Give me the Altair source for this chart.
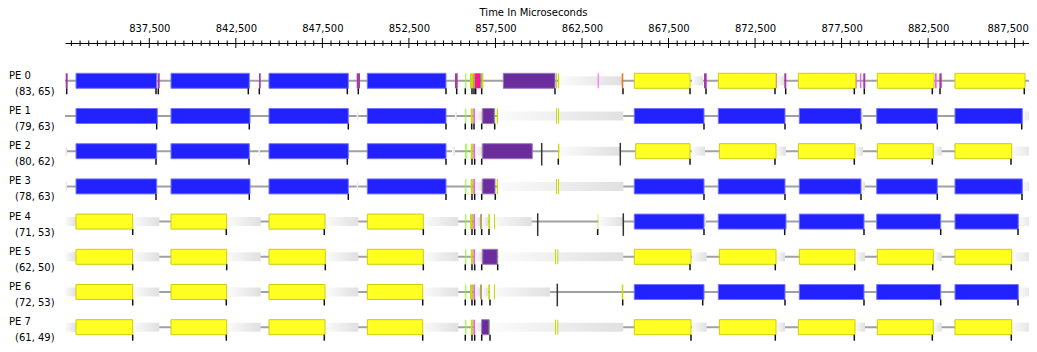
import altair as alt
import pandas as pd

# ---------------- data (times in microseconds) ----------------
PE_NAMES = ["PE 0", "PE 1", "PE 2", "PE 3", "PE 4", "PE 5", "PE 6", "PE 7"]
PE_COUNTS = ["(83, 65)", "(79, 63)", "(80, 62)", "(78, 63)",
             "(71, 53)", "(62, 50)", "(72, 53)", "(61, 49)"]

MAJOR_TICKS = [837500, 842500, 847500, 852500, 857500, 862500,
               867500, 872500, 877500, 882500, 887500]
MINOR_STEP = 500

PE0 = [
    (832669, 832785, "plum"), (833265, 837927, "blue"), (837985, 838101, "plum"),
    (838754, 843278, "blue"), (843838, 843937, "plum"), (844416, 848998, "blue"),
    (849484, 849674, "plum"), (850096, 854643, "blue"), (855163, 855319, "plum"),
    (855758, 855816, "green"), (856030, 856203, "yg"), (856203, 856319, "olive"),
    (856319, 856648, "pink"), (856648, 856706, "teal"), (856706, 856799, "yg"),
    (857954, 860941, "purple"), (860999, 861057, "yg"), (861115, 861173, "yg"),
    (861173, 864795, "idle"), (863408, 863466, "lmag"), (864795, 864888, "orange"),
    (865523, 868742, "yellow"), (868857, 869493, "idle"), (869550, 869706, "plum"),
    (870377, 873711, "yellow"), (873711, 873768, "lmag"), (873768, 874190, "idle"),
    (874190, 874306, "plum"), (875000, 878316, "yellow"), (878316, 878374, "lmag"),
    (878564, 878639, "lmag"), (878755, 878870, "plum"), (879564, 882840, "yellow"),
    (882898, 882996, "lmag"), (883149, 883285, "plum"), (884053, 888098, "yellow"),
]
PE1 = [
    (833265, 837962, "blue"), (838754, 843318, "blue"), (844416, 848998, "blue"),
    (849484, 849576, "idle"), (850096, 854643, "blue"), (855163, 855261, "idle"),
    (855758, 855816, "green"), (856070, 856186, "yg"), (856186, 856244, "olive"),
    (856244, 856319, "lmag"), (856319, 856764, "idle"), (856706, 856764, "olive"),
    (856764, 857434, "purple"), (857434, 857492, "green"), (857573, 857648, "yg"),
    (857648, 864888, "idle"), (860999, 861057, "yg"), (861115, 861173, "yg"),
    (865523, 869550, "blue"), (870377, 874231, "blue"), (875057, 878622, "blue"),
    (878622, 878738, "idle"), (879529, 883030, "blue"), (884053, 887942, "blue"),
    (887942, 888560, "idle"),
]
PE2 = [
    (832629, 832745, "idle"), (833265, 837927, "blue"), (838754, 843278, "blue"),
    (843809, 843895, "idle"), (844416, 848998, "blue"), (850096, 854643, "blue"),
    (854990, 855163, "idle"), (855758, 855839, "green"), (856070, 856186, "yg"),
    (856186, 856244, "olive"), (856244, 856319, "lmag"), (856319, 856764, "idle"),
    (856706, 856764, "olive"), (856764, 859630, "purple"), (861115, 861190, "yg"),
    (861190, 864697, "idle"), (865604, 868742, "yellow"), (868840, 869608, "idle"),
    (870435, 873711, "yellow"), (873711, 874288, "idle"), (875000, 878275, "yellow"),
    (878275, 878738, "idle"), (879564, 882800, "yellow"), (882800, 883285, "idle"),
    (884053, 887329, "yellow"), (887329, 888774, "idle"),
]
PE3 = [
    (832629, 832745, "idle"), (833265, 837927, "blue"), (838754, 843318, "blue"),
    (844416, 848998, "blue"), (849484, 849576, "idle"), (850096, 854643, "blue"),
    (855758, 855816, "green"), (856070, 856186, "yg"), (856186, 856244, "olive"),
    (856244, 856319, "lmag"), (856319, 856764, "idle"), (856706, 856764, "olive"),
    (856764, 857474, "purple"), (857573, 857648, "yg"), (857648, 864888, "idle"),
    (860999, 861057, "yg"), (861115, 861173, "yg"), (865523, 869550, "blue"),
    (870377, 874231, "blue"), (875057, 878622, "blue"), (878622, 878853, "idle"),
    (879529, 883030, "blue"), (884053, 887942, "blue"), (887942, 888560, "idle"),
]
PE4 = [
    (832629, 833265, "idle"), (833265, 836541, "yellow"), (836541, 838078, "idle"),
    (838754, 841972, "yellow"), (841972, 843937, "idle"), (844416, 847652, "yellow"),
    (847652, 849576, "idle"), (850096, 853332, "yellow"), (853332, 855354, "idle"),
    (855758, 855816, "green"), (856030, 856163, "yg"), (856163, 856244, "olive"),
    (856244, 856319, "lmag"), (856319, 856608, "idle"), (856608, 856724, "olive"),
    (856724, 857088, "idle"), (857088, 857186, "yg"), (857186, 859595, "idle"),
    (857416, 857474, "yg"), (863408, 863443, "yg"), (863443, 864888, "idle"),
    (865523, 869550, "blue"), (869550, 869666, "idle"), (870377, 874288, "blue"),
    (875057, 878795, "blue"), (879529, 883227, "blue"), (884053, 887711, "blue"),
    (887711, 888676, "idle"),
]
PE5 = [
    (832629, 833265, "idle"), (833265, 836541, "yellow"), (836541, 838078, "idle"),
    (838754, 841972, "yellow"), (841972, 843937, "idle"), (844416, 847669, "yellow"),
    (847669, 849576, "idle"), (850096, 853332, "yellow"), (853332, 855354, "idle"),
    (855758, 855816, "green"), (856070, 856186, "yg"), (856186, 856244, "olive"),
    (856244, 856319, "lmag"), (856319, 856764, "idle"), (856706, 856764, "olive"),
    (856764, 857607, "purple"), (857607, 857665, "green"), (857665, 864888, "idle"),
    (860941, 860999, "yg"), (861074, 861132, "yg"), (865523, 868799, "yellow"),
    (868840, 869706, "idle"), (870435, 873711, "yellow"), (873711, 874231, "idle"),
    (875057, 878275, "yellow"), (878275, 878853, "idle"), (879564, 882800, "yellow"),
    (882800, 883285, "idle"), (884053, 887329, "yellow"), (887329, 888676, "idle"),
]
PE6 = [
    (832629, 833265, "idle"), (833265, 836541, "yellow"), (836541, 838078, "idle"),
    (838754, 841972, "yellow"), (841972, 843937, "idle"), (844416, 847652, "yellow"),
    (847652, 849576, "idle"), (850096, 853297, "yellow"), (853297, 855354, "idle"),
    (855758, 855816, "green"), (856030, 856163, "yg"), (856163, 856244, "olive"),
    (856244, 856319, "lmag"), (856319, 856608, "idle"), (856608, 856724, "olive"),
    (856724, 857088, "idle"), (857088, 857186, "yg"), (857186, 860652, "idle"),
    (857416, 857474, "yg"), (864795, 864888, "yg"), (865523, 869550, "blue"),
    (870377, 874231, "blue"), (875057, 878795, "blue"), (879529, 883227, "blue"),
    (884053, 887711, "blue"), (887711, 888676, "idle"),
]
PE7 = [
    (832629, 833265, "idle"), (833265, 836541, "yellow"), (836541, 838078, "idle"),
    (838754, 841972, "yellow"), (841972, 843937, "idle"), (844416, 847652, "yellow"),
    (847652, 849576, "idle"), (850096, 853297, "yellow"), (853297, 855354, "idle"),
    (855758, 855816, "green"), (856070, 856186, "yg"), (856186, 856244, "olive"),
    (856244, 856319, "lmag"), (856319, 856706, "idle"), (856706, 857128, "purple"),
    (857128, 857186, "green"), (857186, 864888, "idle"), (860941, 860999, "yg"),
    (861074, 861132, "yg"), (865523, 868799, "yellow"), (868840, 869706, "idle"),
    (870435, 873711, "yellow"), (873711, 874231, "idle"), (875000, 878275, "yellow"),
    (878275, 878853, "idle"), (879564, 882800, "yellow"), (882800, 883285, "idle"),
    (884053, 887329, "yellow"), (887329, 888676, "idle"),
]

TICKS_PE0 = [832727, 837887, 838020, 843220, 843856, 848940, 849576, 854643, 855261,
             855758, 856145, 856261, 856359, 856706, 860941, 864870, 868742, 869666,
             873653, 874271, 878235, 878813, 882742, 883187, 888057]
TICKS_PE1 = [837927, 843278, 848998, 854643, 855758, 856128, 856261, 856706, 857457,
             869550, 874231, 878622, 883030, 887907]
TICKS_PE2 = [837887, 843261, 848940, 854643, 855758, 856145, 856301, 856706, 861132,
             868742, 873653, 878235, 882742, 887289]
TICKS_PE3 = [837887, 843278, 848998, 854643, 855758, 856145, 856301, 856706, 857492,
             869550, 874231, 878622, 883030, 887924]
TICKS_PE4 = [836541, 841949, 847611, 853332, 855758, 856145, 856301, 856706, 857128,
             863408, 869550, 874213, 878795, 883227, 887694]
TICKS_PE5 = [836541, 841972, 847669, 853332, 855758, 856145, 856301, 856706, 857630,
             868742, 873670, 878258, 882765, 887306]
TICKS_PE6 = [836541, 841949, 847611, 853297, 855758, 856145, 856301, 856706, 857186,
             864853, 869475, 874231, 878795, 883227, 887694]
TICKS_PE7 = [836541, 841949, 847611, 853297, 855758, 856145, 856301, 856706, 857186,
             868799, 873670, 878235, 882742, 887306]

# tall black markers (pe, time)
MARKER_PE = [2, 2, 4, 4, 6]
MARKER_T = [860173, 864714, 859942, 864888, 861074]

KIND_COLORS = {
    "blue": "#2222ff", "yellow": "#ffff22", "purple": "#6b2c9c",
    "plum": "#a83aa8", "green": "#7cff1c", "yg": "#c8dc00", "olive": "#b4a46c",
    "pink": "#ff1493", "lmag": "#ff55ff", "teal": "#2e9a5c", "orange": "#e07b20",
}
KIND_STROKES = {"blue": "#7474ff", "yellow": "#cccc10", "purple": "#9a78c0"}

# ---------------- geometry ----------------
T0 = 832629
US_PER_PX = 57.78
ROW_PX = 35.2
PLOT_W, PLOT_H = 964, 301
T1 = T0 + PLOT_W * US_PER_PX
Y0 = -37.8 / ROW_PX
Y1 = Y0 + PLOT_H / ROW_PX
BAR_HALF = 7.5 / ROW_PX
GRAD_HALF = 4.5 / ROW_PX

ALL = [PE0, PE1, PE2, PE3, PE4, PE5, PE6, PE7]
ALL_TICKS = [TICKS_PE0, TICKS_PE1, TICKS_PE2, TICKS_PE3,
             TICKS_PE4, TICKS_PE5, TICKS_PE6, TICKS_PE7]

rows = []
for pe, entries in enumerate(ALL):
    for s, e, k in entries:
        rows.append({"pe": pe, "start": s, "end": e, "kind": k})
df = pd.DataFrame(rows)
df["y_top"] = df["pe"] - BAR_HALF
df["y_bot"] = df["pe"] + BAR_HALF
df["g_top"] = df["pe"] - GRAD_HALF
df["g_bot"] = df["pe"] + GRAD_HALF

trows = []
for pe, ts in enumerate(ALL_TICKS):
    for t in ts:
        trows.append({"pe": pe, "t": t})
tdf = pd.DataFrame(trows)
tdf["y_top"] = tdf["pe"] + BAR_HALF
tdf["y_bot"] = tdf["pe"] + 13.5 / ROW_PX

mdf = pd.DataFrame({"pe": MARKER_PE, "t": MARKER_T})
mdf["y_top"] = mdf["pe"] - 8.3 / ROW_PX
mdf["y_bot"] = mdf["pe"] + 14.3 / ROW_PX

ldf = pd.DataFrame({"pe": list(range(len(PE_NAMES))), "name": PE_NAMES, "counts": PE_COUNTS})

minor = [t for t in range(833000, int(T1), MINOR_STEP) if t not in MAJOR_TICKS]
axdf = pd.DataFrame({"t": MAJOR_TICKS + minor,
                     "major": [True] * len(MAJOR_TICKS) + [False] * len(minor)})

xscale = alt.Scale(domain=[T0, T1], nice=False, zero=False)
yscale = alt.Scale(domain=[Y0, Y1], reverse=True, nice=False, zero=False)
FONT = "DejaVu Sans"

X_AXIS = alt.Axis(
    orient="top", values=MAJOR_TICKS, format=",d", title="Time In Microseconds",
    ticks=False, tickSize=0, grid=False, domain=True, domainColor="#000000",
    domainWidth=1, labelFont=FONT, labelFontSize=10, labelColor="#000000",
    labelBaseline="middle", labelPadding=15, labelFlush=False,
    labelOffset={"condition": {"test": f"datum.value >= {MAJOR_TICKS[-1]}", "value": -7},
                 "value": 0},
    titleFont=FONT, titleFontSize=10, titleFontWeight="normal", titleColor="#000000",
    titleX=468, titleY=-31, titleBaseline="middle", titleAlign="center",
)


def xenc(field):
    return alt.X(field, scale=xscale, axis=X_AXIS)


ALL_KINDS = list(KIND_COLORS)
FILL_SCALE = alt.Scale(domain=ALL_KINDS, range=[KIND_COLORS[k] for k in ALL_KINDS])
STROKE_SCALE = alt.Scale(domain=ALL_KINDS,
                         range=[KIND_STROKES.get(k, KIND_COLORS[k]) for k in ALL_KINDS])

# axis ticks (major and minor cross the axis line)
major_ticks = alt.Chart(axdf).transform_filter("datum.major").mark_rule(
    color="#000000", strokeWidth=1
).encode(x=xenc("t:Q"), y=alt.value(-5), y2=alt.value(5))
minor_ticks = alt.Chart(axdf).transform_filter("!datum.major").mark_rule(
    color="#000000", strokeWidth=1
).encode(x=xenc("t:Q"), y=alt.value(-2.5), y2=alt.value(3))

idle_lines = alt.Chart(ldf).mark_rule(color="#a0a0a0", strokeWidth=2).encode(
    y=alt.Y("pe:Q", scale=yscale, axis=None), x=alt.value(0), x2=alt.value(PLOT_W)
)

grad = alt.Gradient(
    gradient="linear",
    stops=[alt.GradientStop(color="#fbfbfb", offset=0),
           alt.GradientStop(color="#e0e0e0", offset=1)],
    x1=0, x2=1, y1=0, y2=0,
)
idle_rects = alt.Chart(df).transform_filter("datum.kind == 'idle'").mark_rect(
    color=grad, clip=True
).encode(
    x=xenc("start:Q"), x2="end:Q",
    y=alt.Y("g_top:Q", scale=yscale, axis=None), y2="g_bot:Q",
)

sliver_kinds = [k for k in KIND_COLORS if k not in KIND_STROKES]
slivers = alt.Chart(df).transform_filter(
    alt.FieldOneOfPredicate(field="kind", oneOf=sliver_kinds)
).mark_rect(clip=True, strokeWidth=0).encode(
    x=xenc("start:Q"), x2="end:Q",
    y=alt.Y("y_top:Q", scale=yscale, axis=None), y2="y_bot:Q",
    fill=alt.Fill("kind:N", scale=FILL_SCALE, legend=None),
)

major_kinds = list(KIND_STROKES)
bars = alt.Chart(df).transform_filter(
    alt.FieldOneOfPredicate(field="kind", oneOf=major_kinds)
).mark_rect(clip=True, strokeWidth=1).encode(
    x=xenc("start:Q"), x2="end:Q",
    y=alt.Y("y_top:Q", scale=yscale, axis=None), y2="y_bot:Q",
    fill=alt.Fill("kind:N", scale=FILL_SCALE, legend=None),
    stroke=alt.Stroke("kind:N", scale=STROKE_SCALE, legend=None),
)

send_ticks = alt.Chart(tdf).mark_rule(color="#111111", strokeWidth=1.5, clip=True).encode(
    x=xenc("t:Q"),
    y=alt.Y("y_top:Q", scale=yscale, axis=None), y2="y_bot:Q",
)
markers = alt.Chart(mdf).mark_rule(color="#333333", strokeWidth=1.5).encode(
    x=xenc("t:Q"),
    y=alt.Y("y_top:Q", scale=yscale, axis=None), y2="y_bot:Q",
)

name_text = alt.Chart(ldf).mark_text(
    align="left", baseline="middle", dy=-5, font=FONT, fontSize=10, color="#000000"
).encode(x=alt.value(-56), y=alt.Y("pe:Q", scale=yscale, axis=None), text="name:N")
count_text = alt.Chart(ldf).mark_text(
    align="left", baseline="middle", dy=11, font=FONT, fontSize=10, color="#000000"
).encode(x=alt.value(-50), y=alt.Y("pe:Q", scale=yscale, axis=None), text="counts:N")

chart = alt.layer(
    major_ticks, minor_ticks, idle_lines, idle_rects, slivers, bars,
    send_ticks, markers, name_text, count_text,
).properties(
    width=PLOT_W, height=PLOT_H,
    autosize=alt.AutoSizeParams(type="none"),
    padding={"left": 57, "top": 35, "right": 0, "bottom": 0},
    background="#ffffff",
).configure_view(stroke=None)

chart.save("out.html", embed_options={"renderer": "svg", "actions": False})
